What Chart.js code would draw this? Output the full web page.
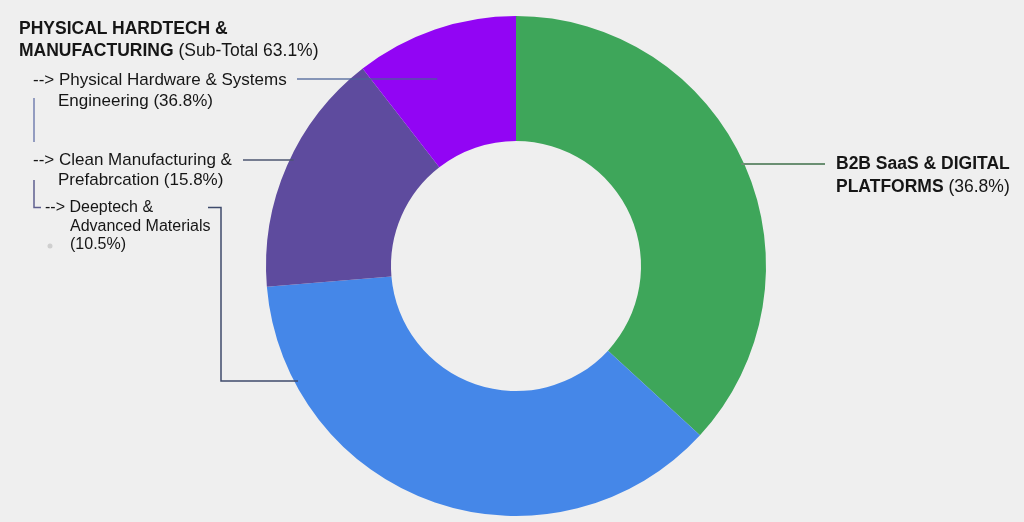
<!DOCTYPE html>
<html>
<head>
<meta charset="utf-8">
<script src="https://cdn.jsdelivr.net/npm/chart.js@4.4.1/dist/chart.umd.min.js"></script>
<style>
  html, body { margin: 0; padding: 0; background: #efefef; }
  #wrap { position: relative; width: 1024px; height: 522px; overflow: hidden; background: #efefef; }
  #wrap canvas { position: absolute; left: 0; top: 0; }
  .lbl { position: absolute; font-family: "Liberation Sans", Arial, sans-serif; color: #161616; white-space: nowrap; font-size: 17px; }
  .lbl b { font-weight: bold; }
</style>
</head>
<body>
<div id="wrap">
  <canvas id="c"></canvas>
  <div class="lbl" id="t1" style="left:19px; top:17px; font-size:17.5px; line-height:22px;"><b>PHYSICAL HARDTECH &amp;</b><br><b>MANUFACTURING</b> (Sub-Total 63.1%)</div>
  <div class="lbl" id="t2" style="left:33px; top:69px; line-height:21px;">--&gt; Physical Hardware &amp; Systems<br><span style="padding-left:25px">Engineering (36.8%)</span></div>
  <div class="lbl" id="t3" style="left:33px; top:150px; line-height:20px;">--&gt; Clean Manufacturing &amp;<br><span style="padding-left:25px">Prefabrcation (15.8%)</span></div>
  <div class="lbl" id="t4" style="left:45px; top:198px; font-size:16px; line-height:18.5px;">--&gt; Deeptech &amp;<br><span style="padding-left:25px">Advanced Materials</span><br><span style="padding-left:25px">(10.5%)</span></div>
  <div class="lbl" id="t5" style="left:836px; top:152px; font-size:17.5px; line-height:23px;"><b>B2B SaaS &amp; DIGITAL</b><br><b>PLATFORMS</b> (36.8%)</div>
</div>
<script>
// ---- data ----
const categories = [
  'B2B SaaS & Digital Platforms',
  'Physical Hardware & Systems Engineering',
  'Clean Manufacturing & Prefabrcation',
  'Deeptech & Advanced Materials'
];
const shares = [36.8, 36.8, 15.8, 10.5];
const sliceColors = ['#3ea65a', '#4587e8', '#5e4b9e', '#9205f4'];

// ---- leader lines drawn over the slices, tied to the arc geometry ----
const leaderPlugin = {
  id: 'leaders',
  afterDatasetsDraw(chart) {
    const arc = chart.getDatasetMeta(0).data[0];
    if (!arc) return;
    const cx = arc.x, cy = arc.y, R = arc.outerRadius;
    const edgeX = (y, side) => cx + side * Math.sqrt(Math.max(0, R * R - (y - cy) * (y - cy)));
    const ctx = chart.ctx;
    ctx.save();
    ctx.lineCap = 'butt';
    const seg = (pts, color, w) => {
      ctx.beginPath();
      ctx.strokeStyle = color;
      ctx.lineWidth = w;
      ctx.moveTo(pts[0][0], pts[0][1]);
      for (let i = 1; i < pts.length; i++) ctx.lineTo(pts[i][0], pts[i][1]);
      ctx.stroke();
    };
    // B2B SaaS
    seg([[edgeX(164, 1) - 3, 164], [825, 164]], '#6a8f72', 2);
    // Physical hardware line (runs into the violet slice)
    seg([[297, 79], [cx - R * 0.315, 79]], 'rgba(74,98,150,0.85)', 1.5);
    // Clean manufacturing
    seg([[243, 160], [edgeX(160, -1) + 4, 160]], '#4d5670', 1.5);
    // Deeptech bracket
    seg([[208, 207.5], [221, 207.5], [221, 381], [edgeX(381, -1) + 4, 381]], '#3f4b6c', 1.5);
    // left tree markers
    seg([[34, 98], [34, 142]], '#7480b0', 1.5);
    seg([[34, 180], [34, 207.5], [41, 207.5]], '#5f6090', 1.5);
    ctx.beginPath();
    ctx.fillStyle = '#cfcfcf';
    ctx.arc(50, 246, 2.5, 0, Math.PI * 2);
    ctx.fill();
    ctx.restore();
  }
};

new Chart(document.getElementById('c'), {
  type: 'doughnut',
  data: {
    labels: categories,
    datasets: [{
      data: shares,
      backgroundColor: sliceColors,
      borderWidth: 0,
      hoverOffset: 0
    }]
  },
  options: {
    responsive: true,
    maintainAspectRatio: false,
    animation: false,
    cutout: '50%',
    rotation: 0,
    layout: { padding: { left: 266, right: 258, top: 16, bottom: 6 } },
    plugins: {
      legend: { display: false },
      tooltip: { enabled: false }
    },
    events: []
  },
  plugins: [leaderPlugin]
});
</script>
</body>
</html>
